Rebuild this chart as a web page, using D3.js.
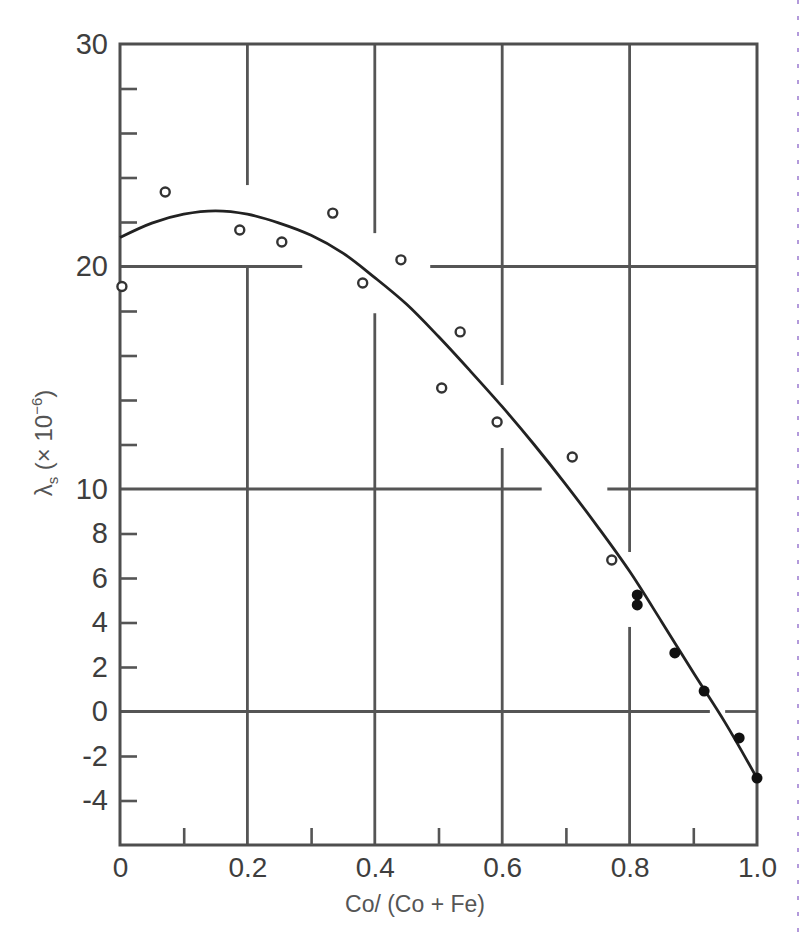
<!DOCTYPE html>
<html>
<head>
<meta charset="utf-8">
<script src="https://cdn.jsdelivr.net/npm/d3@7"></script>
<style>
  html, body { margin: 0; padding: 0; background: #fff; }
  svg { display: block; }
  text { font-family: "Liberation Sans", Arial, sans-serif; }
</style>
</head>
<body>
<svg id="chart" width="800" height="934"></svg>
<script>
// ---------- data ----------
const xTickValues = [0, 0.2, 0.4, 0.6, 0.8, 1.0];
const xTickLabels = ["0", "0.2", "0.4", "0.6", "0.8", "1.0"];
const xMinorTicks = [0.1, 0.3, 0.5, 0.7, 0.9];
const yTickValues = [30, 20, 10, 8, 6, 4, 2, 0, -2, -4];
const yTickLabels = ["30", "20", "10", "8", "6", "4", "2", "0", "-2", "-4"];
const yMinorTicks = [28, 26, 24, 22, 18, 16, 14, 12, 8, 6, 4, 2, -2, -4];

// open circles
const openX = [0.003, 0.071, 0.188, 0.254, 0.334, 0.381, 0.441, 0.534, 0.505, 0.592, 0.710, 0.772];
const openY = [19.1, 23.35, 21.64, 21.1, 22.4, 19.26, 20.3, 17.06, 14.54, 13.01, 11.44, 6.81];
// filled circles
const filledX = [0.812, 0.812, 0.871, 0.917, 0.972, 1.0];
const filledY = [5.24, 4.79, 2.63, 0.92, -1.19, -2.99];
// fitted curve
const curveX = [0, 0.05, 0.1, 0.15, 0.2, 0.25, 0.3, 0.35, 0.4, 0.45, 0.5, 0.55, 0.6, 0.65, 0.7, 0.75, 0.8, 0.85, 0.9, 0.95, 1.0];
const curveY = [21.3, 21.95, 22.35, 22.5, 22.35, 21.95, 21.4, 20.6, 19.5, 18.3, 16.85, 15.3, 13.7, 12.0, 10.2, 8.3, 6.3, 4.05, 1.75, -0.5, -3.0];

// grid lines (value, and the data range over which each piece is drawn)
const vGrid = [
  [0.2, 30, 23.66], [0.2, 20, -6],
  [0.4, 30, 21.5], [0.4, 17.9, -6],
  [0.6, 30, 14.67], [0.6, 11.84, -6],
  [0.8, 30, 7.17], [0.8, 3.8, -6]
];
const hGrid = [
  [20, 0, 0.286], [20, 0.487, 1.0],
  [10, 0, 0.662], [10, 0.765, 1.0],
  [0, 0, 0.926], [0, 0.95, 1.0]
];

// ---------- chart ----------
const svg = d3.select("#chart");
const x = d3.scaleLinear().domain([0, 1]).range([120, 757]);
const y = d3.scaleLinear().domain([-6, 30]).range([845, 44]);
const ink = "#3e3e3e";

// grid
const g = svg.append("g").attr("stroke", "#555").attr("stroke-width", 2.8).attr("fill", "none");
vGrid.forEach(d => g.append("line").attr("x1", x(d[0])).attr("x2", x(d[0])).attr("y1", y(d[1])).attr("y2", y(d[2])));
hGrid.forEach(d => g.append("line").attr("y1", y(d[0])).attr("y2", y(d[0])).attr("x1", x(d[1])).attr("x2", x(d[2])));

// frame
svg.append("rect")
  .attr("x", x(0)).attr("y", y(30))
  .attr("width", x(1) - x(0)).attr("height", y(-6) - y(30))
  .attr("fill", "none").attr("stroke", "#4e4e4e").attr("stroke-width", 3);

// minor ticks (inward)
const yMinorAxis = d3.axisLeft(y).tickValues(yMinorTicks).tickSizeInner(-17).tickSizeOuter(0).tickFormat("");
const ym = svg.append("g").attr("transform", `translate(${x(0)},0)`).call(yMinorAxis);
ym.select(".domain").remove();
ym.selectAll("line").attr("stroke", "#555").attr("stroke-width", 2.6);

const xMinorAxis = d3.axisBottom(x).tickValues(xMinorTicks).tickSizeInner(-17).tickSizeOuter(0).tickFormat("");
const xm = svg.append("g").attr("transform", `translate(0,${y(-6)})`).call(xMinorAxis);
xm.select(".domain").remove();
xm.selectAll("line").attr("stroke", "#555").attr("stroke-width", 2.6);

// tick labels
const yLabAxis = d3.axisLeft(y).tickValues(yTickValues).tickSize(0).tickPadding(12)
  .tickFormat((d, i) => yTickLabels[i]);
const yl = svg.append("g").attr("transform", `translate(${x(0)},0)`).call(yLabAxis);
yl.select(".domain").remove();
yl.selectAll("text").attr("font-size", 29).attr("fill", ink)
  .attr("font-family", "'Liberation Sans', Arial, sans-serif");

const xLabAxis = d3.axisBottom(x).tickValues(xTickValues).tickSize(0).tickPadding(12)
  .tickFormat((d, i) => xTickLabels[i]);
const xl = svg.append("g").attr("transform", `translate(0,${y(-6)})`).call(xLabAxis);
xl.select(".domain").remove();
xl.selectAll("text").attr("font-size", 28).attr("fill", ink)
  .attr("font-family", "'Liberation Sans', Arial, sans-serif");

// curve
const line = d3.line().x(d => x(d[0])).y(d => y(d[1])).curve(d3.curveCatmullRom.alpha(0.5));
svg.append("path")
  .datum(curveX.map((v, i) => [v, curveY[i]]))
  .attr("d", line)
  .attr("fill", "none").attr("stroke", "#222").attr("stroke-width", 2.8);

// points
svg.append("g").selectAll("circle.open")
  .data(openX.map((v, i) => [v, openY[i]]))
  .join("circle")
  .attr("cx", d => x(d[0])).attr("cy", d => y(d[1])).attr("r", 4.5)
  .attr("fill", "#fff").attr("stroke", "#333").attr("stroke-width", 2.4);

svg.append("g").selectAll("circle.filled")
  .data(filledX.map((v, i) => [v, filledY[i]]))
  .join("circle")
  .attr("cx", d => x(d[0])).attr("cy", d => y(d[1])).attr("r", 5.5)
  .attr("fill", "#111");

// axis titles
svg.append("text")
  .attr("x", 415).attr("y", 912)
  .attr("text-anchor", "middle").attr("font-size", 23).attr("fill", "#555")
  .text("Co/ (Co + Fe)");

const yt = svg.append("text")
  .attr("transform", "translate(52,443) rotate(-90)")
  .attr("text-anchor", "middle").attr("font-size", 24).attr("fill", "#555");
yt.append("tspan").text("λ");
yt.append("tspan").attr("font-size", 15).attr("dy", 6).text("s");
yt.append("tspan").attr("dy", -6).text(" (× 10");
yt.append("tspan").attr("font-size", 15).attr("dy", -10).text("−6");
yt.append("tspan").attr("dy", 10).text(")");

// scan edge artefact on the right
svg.append("line").attr("x1", 798).attr("x2", 798).attr("y1", 0).attr("y2", 934)
  .attr("stroke", "#9a7ad0").attr("stroke-width", 1.5).attr("stroke-dasharray", "4,12");
</script>
</body>
</html>
